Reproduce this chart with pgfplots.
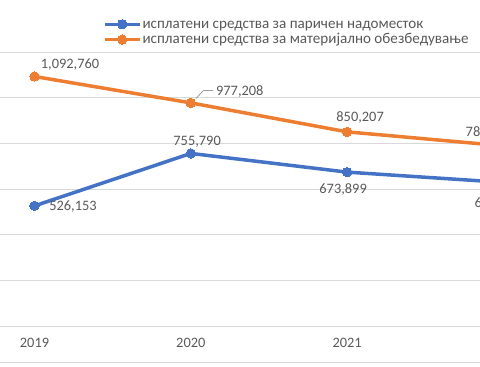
\documentclass[border=0pt]{standalone}
\usepackage{pgfplots}
\pgfplotsset{compat=1.18}
\usepackage{pgfplotstable}
\usepackage{fontspec}
\setmainfont{Carlito}
\definecolor{xblue}{HTML}{4472C4}
\definecolor{xorange}{HTML}{ED7D31}
\definecolor{lbl}{HTML}{595959}
\definecolor{grd}{HTML}{D9D9D9}
\newcommand\lblfont{\fontsize{14.4}{17}\selectfont}
\newcommand\legfont{\fontsize{15.1}{17}\selectfont}

\pgfplotstableread{
x y dx dy
2019 526153 38.5 -0.7
2020 755790 6.3 11.7
2021 673899 -4 -17
2022 629000 -5 -21
}\paid
\pgfplotstableread{
x y dx dy
2019 1092760 35.5 11.5
2020 977208 49 11.7
2021 850207 13 14
2022 789000 -14 13
}\material

\pgfplotsset{
  lab/.style={
    nodes near coords={\pgfmathprintnumber[fixed, precision=0, 1000 sep={,}, assume math mode=true]{\pgfplotspointmeta}},
    visualization depends on={\thisrow{dx} \as \dx},
    visualization depends on={\thisrow{dy} \as \dy},
    every node near coord/.append style={anchor=center, xshift=\dx pt, yshift=\dy pt, text=lbl, font=\lblfont},
  }
}

\begin{document}
\begin{tikzpicture}
\path[use as bounding box, clip] (0pt,0pt) rectangle (480pt,367pt);
\draw[grd, line width=0.9pt] (0pt,5pt) -- (480pt,5pt);
\begin{axis}[
  at={(-43.65pt,41pt)}, anchor=south west,
  scale only axis, width=625.2pt, height=274pt,
  xmin=2018.5, xmax=2022.5, ymin=0, ymax=1200000,
  xtick={2019,2020,2021,2022}, xticklabels={2019,2020,2021,2022},
  ytick={0,200000,400000,600000,800000,1000000,1200000}, yticklabels={},
  scaled y ticks=false,
  ymajorgrids, major grid style={grd, line width=0.9pt},
  separate axis lines,
  axis x line*=bottom, axis y line*=left,
  x axis line style={grd, line width=0.9pt, -},
  y axis line style={draw=none},
  tick style={draw=none},
  xticklabel style={font=\lblfont, text=lbl, yshift=-8.5pt},
  /pgf/number format/assume math mode=true,
  legend image code/.code={\draw[mark repeat=2,mark phase=2,#1] plot coordinates {(0pt,0pt)(17.5pt,0pt)(35pt,0pt)};},
  legend style={at={(axis description cs:0.2346,1.1259)}, anchor=north west, draw=none, fill=none, inner sep=0pt, outer sep=0pt, font=\legfont, text=lbl, row sep=1.8pt, column sep=1pt, nodes={inner sep=0pt, text height=10.5pt, text depth=3pt}},
  legend cell align=left,
]
\addplot[xblue, line width=3.5pt, mark=*, mark size=4.7pt, mark options={solid, line width=0pt, fill=xblue}, lab] table[x=x, y=y] {\paid};
\addlegendentry{исплатени средства за паричен надоместок}
\addplot[xorange, line width=3.5pt, mark=*, mark size=4.7pt, mark options={solid, line width=0pt, fill=xorange}, lab] table[x=x, y=y] {\material};
\addlegendentry{исплатени средства за материјално обезбедување}
\draw[lbl!60, line width=0.8pt] ([xshift=5.3pt,yshift=4.4pt]axis cs:2020,977208) -- ([xshift=12.6pt,yshift=12.4pt]axis cs:2020,977208) -- ([xshift=22pt,yshift=12.4pt]axis cs:2020,977208);
\end{axis}
\end{tikzpicture}
\end{document}
